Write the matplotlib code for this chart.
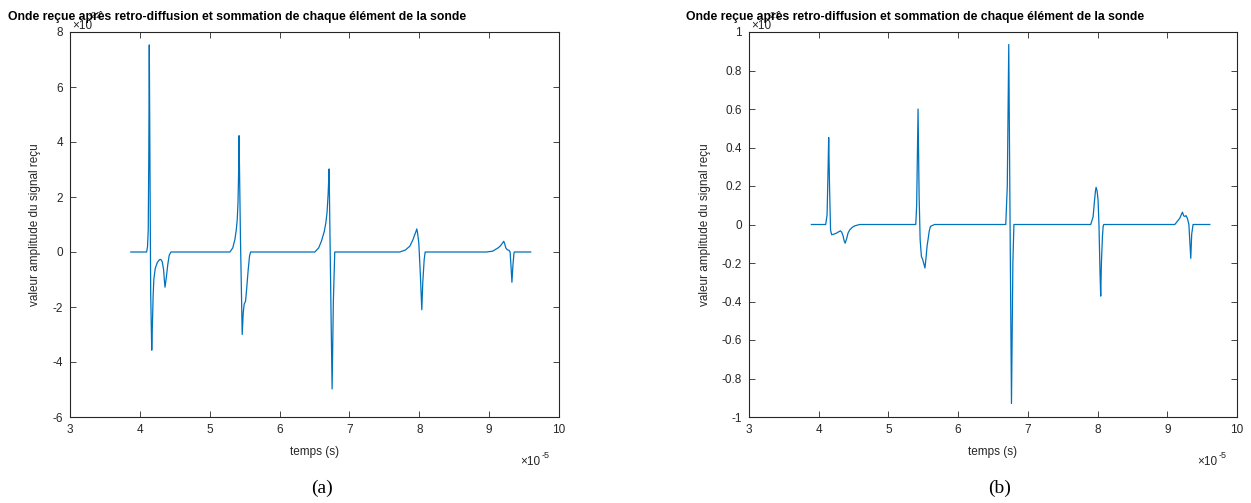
import numpy as np
import matplotlib.pyplot as plt

# valeurs (temps en 1e-5 s)
t_a = [3.87, 4.097, 4.11, 4.12, 4.128, 4.135, 4.145, 4.155, 4.17, 4.18, 4.19, 4.20, 4.22,
       4.25, 4.28, 4.30, 4.32, 4.34, 4.35, 4.36, 4.38, 4.40, 4.42, 4.445,
       5.289, 5.33, 5.36, 5.38, 5.394, 5.405, 5.413, 5.42, 5.44, 5.465, 5.48, 5.494,
       5.513, 5.53, 5.551, 5.57, 5.585,
       6.505, 6.56, 6.60, 6.64, 6.662, 6.68, 6.695, 6.703, 6.709, 6.73, 6.752, 6.77, 6.79,
       7.721, 7.80, 7.864, 7.91, 7.935, 7.952, 7.964, 7.975, 7.993, 8.015, 8.036, 8.05,
       8.07, 8.084,
       8.961, 9.05, 9.128, 9.16, 9.181, 9.195, 9.209, 9.225, 9.238, 9.26, 9.285, 9.30,
       9.315, 9.326, 9.34, 9.355, 9.36, 9.595]
y_a = [0, 0, 0.2, 0.8, 3.5, 7.53, 3.0, -1.5, -3.57, -2.6, -1.6, -1.0, -0.6,
       -0.38, -0.28, -0.27, -0.35, -0.65, -1.0, -1.28, -0.9, -0.45, -0.12, 0,
       0, 0.15, 0.45, 0.8, 1.18, 1.8, 2.8, 4.23, 0.5, -3.0, -2.2, -1.89,
       -1.79, -1.3, -0.64, -0.15, 0,
       0, 0.15, 0.4, 0.75, 1.05, 1.45, 2.1, 2.6, 3.02, -1.0, -4.98, -1.8, 0,
       0, 0.07, 0.21, 0.45, 0.63, 0.74, 0.84, 0.7, 0.33, -0.8, -2.1, -1.1,
       -0.28, 0,
       0, 0.03, 0.15, 0.22, 0.29, 0.34, 0.39, 0.28, 0.15, 0.08, 0.06, 0.0,
       -0.6, -1.10, -0.5, -0.05, 0, 0]

t_b = [3.895, 4.10, 4.12, 4.135, 4.143, 4.155, 4.17, 4.186, 4.22, 4.254, 4.285, 4.311,
       4.33, 4.35, 4.365, 4.379, 4.40, 4.42, 4.445, 4.48, 4.517, 4.588,
       5.392, 5.405, 5.415, 5.425, 5.44, 5.455, 5.473, 5.49, 5.505, 5.524, 5.54, 5.555,
       5.568, 5.585, 5.603, 5.66,
       6.683, 6.705, 6.726, 6.745, 6.765, 6.785, 6.80,
       7.902, 7.936, 7.955, 7.97, 7.979, 7.993, 8.007, 8.02, 8.035, 8.045, 8.055, 8.07,
       8.08, 8.089,
       9.108, 9.18, 9.205, 9.218, 9.235, 9.251, 9.27, 9.29, 9.31, 9.325, 9.337, 9.35,
       9.37, 9.61]
y_b = [0, 0, 0.05, 0.3, 0.452, 0.2, -0.03, -0.053, -0.05, -0.045, -0.038, -0.033,
       -0.04, -0.06, -0.085, -0.097, -0.075, -0.045, -0.028, -0.015, -0.007, 0,
       0, 0.1, 0.35, 0.60, 0.15, -0.08, -0.166, -0.18, -0.2, -0.226, -0.17, -0.11,
       -0.079, -0.035, -0.01, 0,
       0, 0.2, 0.935, 0.0, -0.93, -0.2, 0,
       0, 0.04, 0.12, 0.175, 0.193, 0.175, 0.128, 0.0, -0.25, -0.372, -0.2, -0.062,
       -0.01, 0,
       0, 0.033, 0.055, 0.064, 0.045, 0.042, 0.046, 0.03, 0, -0.1, -0.176, -0.05,
       0, 0]

yticks_a = [-6, -4, -2, 0, 2, 4, 6, 8]
yticks_b = [-1, -0.8, -0.6, -0.4, -0.2, 0, 0.2, 0.4, 0.6, 0.8, 1]
xticks = [3, 4, 5, 6, 7, 8, 9, 10]

titre = 'Onde reçue après retro-diffusion et sommation de chaque élément de la sonde'
ylab = 'valeur amplitude du signal reçu'

plt.rcParams['font.family'] = ['Liberation Sans', 'DejaVu Sans']
W, H = 1251, 503
fig = plt.figure(figsize=(W / 100, H / 100), dpi=100)

def px(x, y):
    return x / W, 1 - y / H

def setup(ax, yticks, ylim):
    ax.set_xlim(3, 10)
    ax.set_ylim(*ylim)
    ax.set_xticks(xticks)
    ax.set_yticks(yticks)
    ax.set_yticklabels(['{:g}'.format(v) for v in yticks])
    ax.tick_params(direction='in', top=True, right=True, length=4,
                   width=0.6, colors='#262626', labelsize=8.5, pad=5)
    for s in ax.spines.values():
        s.set_linewidth(0.8)
        s.set_color('#262626')
    ax.set_xlabel('temps (s)', fontsize=8.5, color='#262626', labelpad=7)
    ax.set_ylabel(ylab, fontsize=8.5, color='#262626', labelpad=8)

ax1 = fig.add_axes([70 / W, 86 / H, 489 / W, 385 / H])
ax2 = fig.add_axes([749 / W, 86 / H, 488 / W, 385 / H])

ax1.plot(t_a, y_a, color='#0072BD', lw=0.9)
ax2.plot(t_b, y_b, color='#0072BD', lw=0.9)
setup(ax1, yticks_a, (-6, 8))
setup(ax2, yticks_b, (-1, 1))

# multiplicateurs d'echelle facon MATLAB (en partie caches par le titre)
for (x0, e) in ((72, '-22'), (751, '-21')):
    fig.text(*px(x0, 26), '×10', fontsize=8.5, color='#262626', va='center')
    fig.text(*px(x0 + 17, 16), e, fontsize=6.5, color='#262626', va='center')
for (x0, e) in ((520, '-5'), (1197, '-5')):
    fig.text(*px(x0, 462), '×10', fontsize=8.5, color='#262626', va='center')
    fig.text(*px(x0 + 22, 455), e, fontsize=6.5, color='#262626', va='center')

for xc in (237, 915):
    fig.text(*px(xc, 17), titre, ha='center', va='center',
             fontsize=8.8, fontweight='bold',
             bbox=dict(facecolor='none', edgecolor='none', pad=0))

fig.text(*px(322, 488), '(a)', ha='center', va='center', fontsize=14,
         family='Liberation Serif')
fig.text(*px(1000, 488), '(b)', ha='center', va='center', fontsize=14,
         family='Liberation Serif')

fig.savefig('out.png', dpi=100)
